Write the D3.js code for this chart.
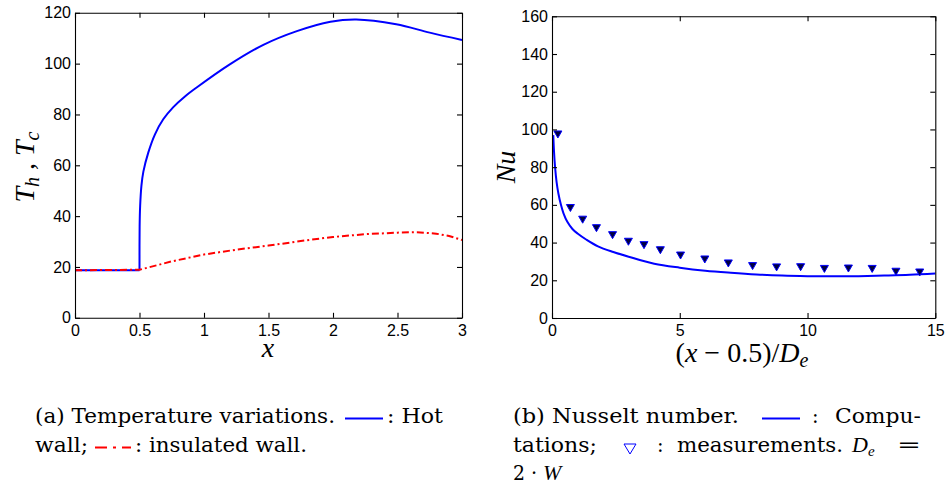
<!DOCTYPE html>
<meta charset="utf-8">
<head>
  <title>Temperature and Nusselt number</title>
  <script src="https://cdn.jsdelivr.net/npm/d3@7"></script>
  <style>
    body { margin: 0; background: #fff; }
    .tick text { font-family: "Liberation Sans", Arial, sans-serif; font-size: 16px; fill: #000; }
    .math { font-family: "Liberation Serif", "DejaVu Serif", "Noto Serif", "Times New Roman", serif; font-style: italic; }
    .rm { font-family: "Liberation Serif", "DejaVu Serif", "Noto Serif", "Times New Roman", serif; }
    .cap { font-family: "DejaVu Serif", "Liberation Serif", "Noto Serif", "Times New Roman", serif; font-size: 19.5px; }
  </style>
</head>
<body>
<div id="chart"></div>
<script>
// (a) temperature along the channel
var hotX  = [0, 0.5, 0.501, 0.505, 0.515, 0.53, 0.568, 0.62, 0.684, 0.762, 0.85, 0.943, 1.2, 1.46, 1.72, 1.98, 2.18, 2.49, 2.75, 3.0];
var hotY  = [18.7, 18.7, 36, 44, 52, 57.5, 65, 72.2, 78.1, 82.9, 87, 90.6, 99.7, 107.4, 112.8, 116.5, 117.4, 115.5, 112.2, 109.3];
var coldX = [0, 0.5, 0.75, 1.0, 1.25, 1.5, 1.75, 2.0, 2.25, 2.5, 2.65, 2.8, 2.9, 3.0];
var coldY = [18.7, 18.9, 22.2, 24.9, 26.8, 28.4, 30.2, 31.8, 32.9, 33.5, 33.7, 33.1, 32.2, 30.6];

// (b) Nusselt number, computed and measured
var compX = [0.05, 0.08, 0.12, 0.18, 0.25, 0.35, 0.45, 0.6, 0.8, 1.0, 1.35, 1.8, 2.4, 3.0, 4.0, 5.0, 6.0, 7.0, 8.0, 9.0, 10.0, 11.0, 12.0, 13.0, 14.0, 15.0];
var compY = [97, 88, 80, 72, 66, 60, 55.5, 51, 47.2, 44.8, 41.5, 38, 35, 32.5, 28.8, 26.7, 25.1, 24, 23.1, 22.5, 22.2, 22.1, 22.2, 22.5, 22.9, 23.6];
var measX = [0.23, 0.72, 1.2, 1.74, 2.37, 2.99, 3.6, 4.24, 5.03, 5.98, 6.9, 7.85, 8.79, 9.73, 10.66, 11.6, 12.53, 13.46, 14.39];
var measY = [97.6, 58.6, 52.4, 47.9, 44.2, 40.7, 38.9, 36.2, 33.4, 31.3, 29.2, 27.8, 27.1, 27.2, 26.3, 26.5, 26.3, 24.8, 24.4];

var leftXTicks  = [0, 0.5, 1, 1.5, 2, 2.5, 3];
var leftYTicks  = [0, 20, 40, 60, 80, 100, 120];
var rightXTicks = [0, 5, 10, 15];
var rightYTicks = [0, 20, 40, 60, 80, 100, 120, 140, 160];

var width = 946, height = 489;
var svg = d3.select("#chart").append("svg")
    .attr("width", width)
    .attr("height", height);

function zip(xs, ys) { return xs.map(function(d, i) { return [d, ys[i]]; }); }

// draws a matlab style box with inward ticks on all four sides
function drawFrame(x, y, xt, yt) {
    var x0 = x.range()[0], x1 = x.range()[1];
    var y0 = y.range()[0], y1 = y.range()[1];
    var g = svg.append("g");
    g.append("g").attr("transform", "translate(0," + y0 + ")")
        .call(d3.axisBottom(x).tickValues(xt).tickFormat(d3.format("")).tickSize(-5).tickSizeOuter(0).tickPadding(7));
    g.append("g").attr("transform", "translate(0," + y1 + ")")
        .call(d3.axisTop(x).tickValues(xt).tickFormat("").tickSize(-5).tickSizeOuter(0));
    g.append("g").attr("transform", "translate(" + x0 + ",0)")
        .call(d3.axisLeft(y).tickValues(yt).tickFormat(d3.format("")).tickSize(-5).tickSizeOuter(0).tickPadding(4));
    g.append("g").attr("transform", "translate(" + x1 + ",0)")
        .call(d3.axisRight(y).tickValues(yt).tickFormat("").tickSize(-5).tickSizeOuter(0));
    g.selectAll(".domain, .tick line").attr("stroke", "#000").attr("stroke-width", 1.1);
    g.selectAll("text").attr("font-family", null).attr("font-size", null);
    return g;
}

// ---------- left panel ----------
var xL = d3.scaleLinear().domain([0, 3]).range([75, 462]);
var yL = d3.scaleLinear().domain([0, 120]).range([317.8, 12.8]);
var lineLin = d3.line()
    .x(function(d){ return xL(d[0]); }).y(function(d){ return yL(d[1]); });
var lineSmooth = d3.line().curve(d3.curveCatmullRom.alpha(0.5))
    .x(function(d){ return xL(d[0]); }).y(function(d){ return yL(d[1]); });

var hot = zip(hotX, hotY);
// flat inlet part straight, heated part smooth
svg.append("path")
    .attr("d", lineLin(hot.slice(0, 2)) + lineSmooth(hot.slice(1)))
    .attr("fill", "none").attr("stroke", "#0000ff").attr("stroke-width", 2);
svg.append("path")
    .attr("d", lineLin(zip(coldX, coldY)))
    .attr("fill", "none").attr("stroke", "#ff0000").attr("stroke-width", 2)
    .attr("stroke-dasharray", "7,3,2,3");
drawFrame(xL, yL, leftXTicks, leftYTicks);

// ---------- right panel ----------
var xR = d3.scaleLinear().domain([0, 15]).range([552, 935.3]);
var yR = d3.scaleLinear().domain([0, 160]).range([318, 16.3]);
var lineR = d3.line().curve(d3.curveCatmullRom.alpha(0.5))
    .x(function(d){ return xR(d[0]); }).y(function(d){ return yR(d[1]); });

svg.append("path")
    .attr("d", lineR(zip(compX, compY)))
    .attr("fill", "none").attr("stroke", "#0000ff").attr("stroke-width", 2);
svg.selectAll(".meas").data(zip(measX, measY)).enter().append("path")
    .attr("class", "meas")
    .attr("transform", function(d){ return "translate(" + xR(d[0]) + "," + yR(d[1]) + ")"; })
    .attr("d", "M-4,-3L4,-3L0,4Z")
    .attr("fill", "#000040").attr("stroke", "#0000ff").attr("stroke-width", 1);
drawFrame(xR, yR, rightXTicks, rightYTicks);

// ---------- axis labels ----------
svg.append("text").attr("class", "math").attr("font-size", 28)
    .attr("x", 268).attr("y", 357).attr("text-anchor", "middle").text("x");

var tL = svg.append("text").attr("class", "math").attr("font-size", 28)
    .attr("text-anchor", "middle")
    .attr("transform", "translate(34,167) rotate(-90)");
tL.append("tspan").text("T");
tL.append("tspan").attr("font-size", 20).attr("dy", 5).text("h");
tL.append("tspan").attr("dy", -5).text(" , T");
tL.append("tspan").attr("font-size", 20).attr("dy", 5).text("c");

svg.append("text").attr("class", "math").attr("font-size", 28)
    .attr("text-anchor", "middle")
    .attr("transform", "translate(515,167) rotate(-90)")
    .text("Nu");

var xRl = svg.append("text").attr("class", "rm").attr("font-size", 28)
    .attr("x", 742).attr("y", 362).attr("text-anchor", "middle");
xRl.append("tspan").text("(");
xRl.append("tspan").attr("font-style", "italic").text("x");
xRl.append("tspan").text(" \u2212 0.5)/");
xRl.append("tspan").attr("font-style", "italic").text("D");
xRl.append("tspan").attr("font-style", "italic").attr("font-size", 20).attr("dy", 5).text("e");

// ---------- captions ----------
function cap(str, x, y, len, italic) {
    var t = svg.append("text").attr("class", italic ? "math" : "cap")
        .attr("x", x).attr("y", y).text(str);
    if (italic) t.attr("font-size", 22);
    if (len) t.attr("textLength", len).attr("lengthAdjust", "spacingAndGlyphs");
    return t;
}
cap("(a) Temperature variations.", 35, 423, 300);
svg.append("line").attr("x1", 345).attr("x2", 383).attr("y1", 418.5).attr("y2", 418.5)
    .attr("stroke", "#0000ff").attr("stroke-width", 2);
cap(": Hot", 387, 423, 56);
cap("wall;", 35, 452, 53);
svg.append("line").attr("x1", 95).attr("x2", 131).attr("y1", 447.5).attr("y2", 447.5)
    .attr("stroke", "#ff0000").attr("stroke-width", 2).attr("stroke-dasharray", "12,6,3,6");
cap(": insulated wall.", 135, 452, 172);

cap("(b) Nusselt number.", 513, 423, 226);
svg.append("line").attr("x1", 762).attr("x2", 800).attr("y1", 418.5).attr("y2", 418.5)
    .attr("stroke", "#0000ff").attr("stroke-width", 2);
cap(":", 812, 423);
cap("Compu-", 835, 423, 86);
cap("tations;", 513, 452, 84);
svg.append("path").attr("d", "M624,444L636,444L630,454Z")
    .attr("fill", "none").attr("stroke", "#0000ff").attr("stroke-width", 1);
cap(":", 657, 452);
cap("measurements.", 677, 452, 166);
cap("D", 852, 452, null, true);
svg.append("text").attr("class", "math").attr("font-size", 15).attr("x", 868).attr("y", 456).text("e");
cap("=", 897, 452, 24);
cap("2", 513, 480, 12);
cap("\u00b7", 531, 480);
cap("W", 543, 480, null, true);
</script>
</body>
</html>
